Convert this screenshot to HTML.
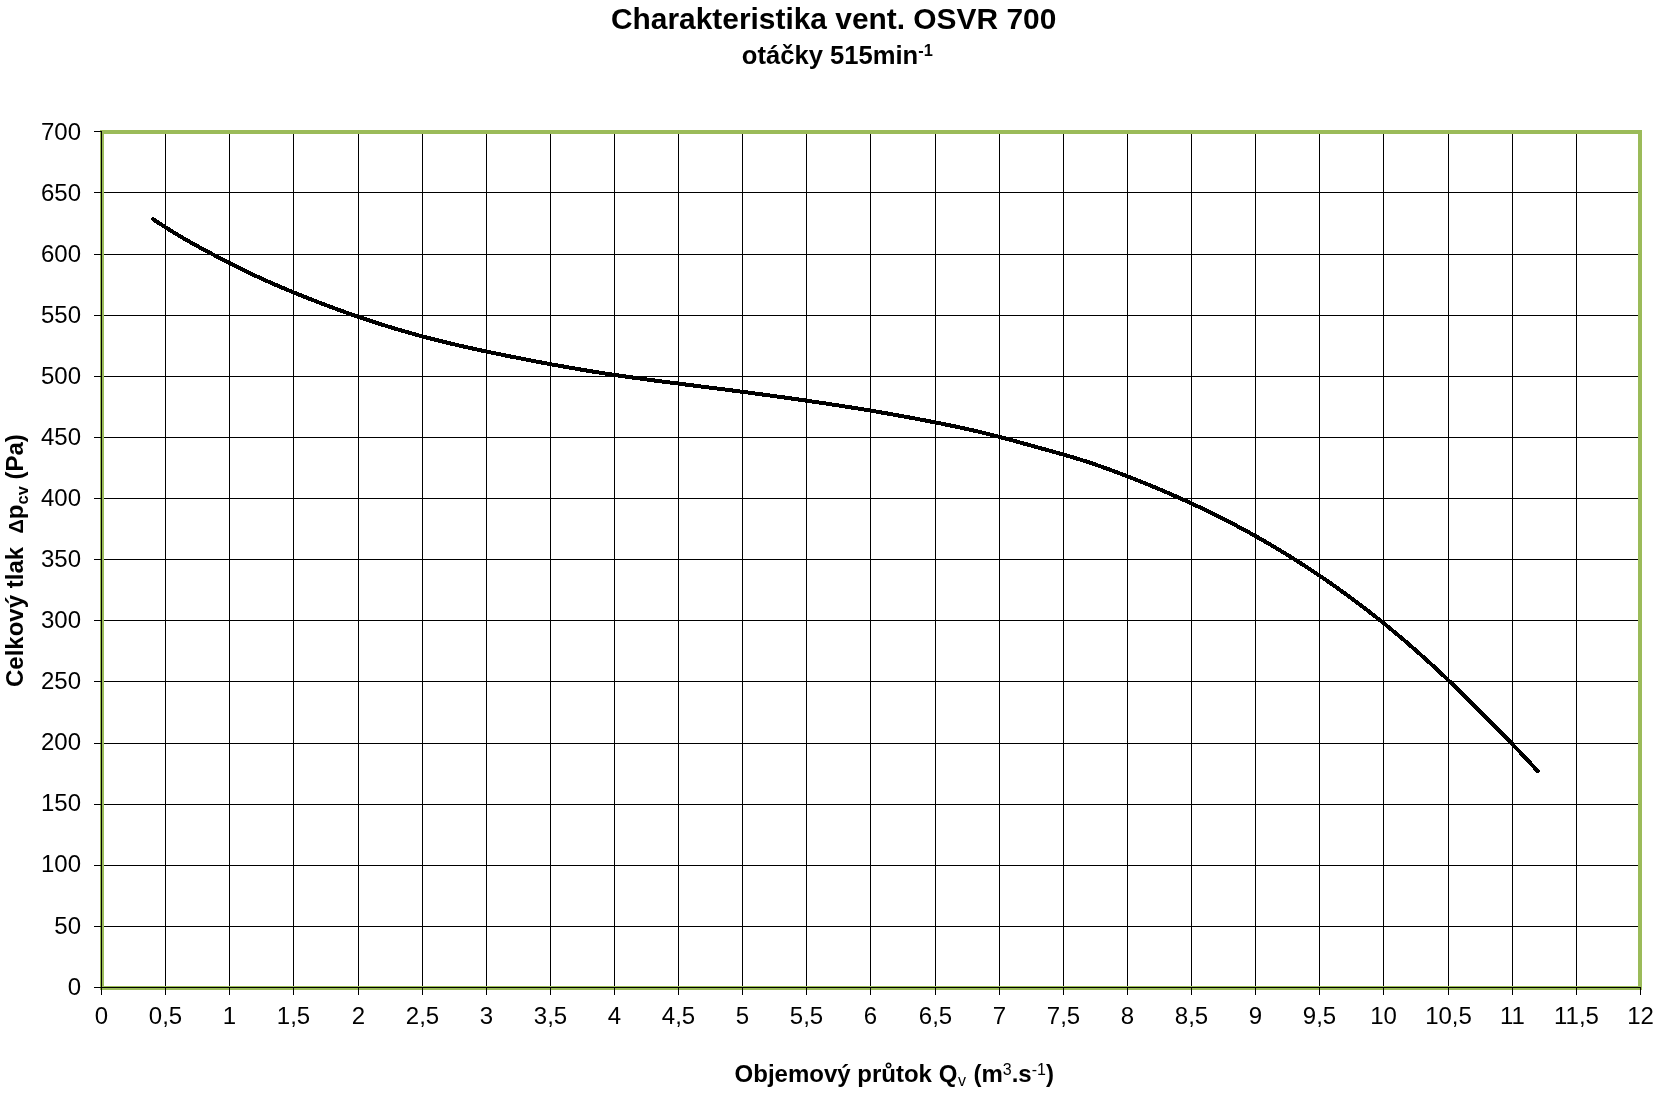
<!DOCTYPE html>
<html><head><meta charset="utf-8"><title>Charakteristika vent. OSVR 700</title>
<style>
html,body{margin:0;padding:0;background:#fff;width:1664px;height:1100px;overflow:hidden}
svg{display:block;will-change:transform}
.t{font-family:"Liberation Sans",Arial,sans-serif;font-size:24px;fill:#000}
.b{font-family:"Liberation Sans",Arial,sans-serif;font-weight:bold;fill:#000}
.r{font-weight:normal}
</style></head><body>
<svg width="1664" height="1100" viewBox="0 0 1664 1100">
<rect width="1664" height="1100" fill="#fff"/>
<path d="M165.5,131V987 M229.5,131V987 M293.5,131V987 M358.5,131V987 M422.5,131V987 M486.5,131V987 M550.5,131V987 M614.5,131V987 M678.5,131V987 M742.5,131V987 M806.5,131V987 M870.5,131V987 M935.5,131V987 M999.5,131V987 M1063.5,131V987 M1127.5,131V987 M1191.5,131V987 M1255.5,131V987 M1319.5,131V987 M1383.5,131V987 M1448.5,131V987 M1512.5,131V987 M1576.5,131V987 M101,926.5H1640 M101,865.5H1640 M101,804.5H1640 M101,743.5H1640 M101,681.5H1640 M101,620.5H1640 M101,559.5H1640 M101,498.5H1640 M101,437.5H1640 M101,376.5H1640 M101,315.5H1640 M101,254.5H1640 M101,192.5H1640" stroke="#000" stroke-width="1" fill="none" shape-rendering="crispEdges"/>
<rect x="102" y="132" width="1538" height="856" fill="none" stroke="#9BBB59" stroke-width="4" shape-rendering="crispEdges"/>
<path d="M101.5,131V987 M101,987.5H1641 M94,987.5H101 M94,926.5H101 M94,865.5H101 M94,804.5H101 M94,743.5H101 M94,681.5H101 M94,620.5H101 M94,559.5H101 M94,498.5H101 M94,437.5H101 M94,376.5H101 M94,315.5H101 M94,254.5H101 M94,192.5H101 M94,131.5H101 M101.5,988V995 M165.5,988V995 M229.5,988V995 M293.5,988V995 M358.5,988V995 M422.5,988V995 M486.5,988V995 M550.5,988V995 M614.5,988V995 M678.5,988V995 M742.5,988V995 M806.5,988V995 M870.5,988V995 M935.5,988V995 M999.5,988V995 M1063.5,988V995 M1127.5,988V995 M1191.5,988V995 M1255.5,988V995 M1319.5,988V995 M1383.5,988V995 M1448.5,988V995 M1512.5,988V995 M1576.5,988V995 M1640.5,988V995" stroke="#000" stroke-width="1" fill="none" shape-rendering="crispEdges"/>
<path d="M153.00,219.11 C154.33,220.00 158.33,222.69 161.00,224.43 C163.67,226.16 166.33,227.85 169.00,229.51 C171.67,231.18 174.33,232.80 177.00,234.40 C179.67,236.00 182.33,237.57 185.00,239.11 C187.67,240.65 190.33,242.16 193.00,243.66 C195.67,245.15 198.33,246.62 201.00,248.08 C203.67,249.53 206.33,250.96 209.00,252.38 C211.67,253.80 214.33,255.20 217.00,256.60 C219.67,257.99 222.33,259.37 225.00,260.74 C227.67,262.11 230.33,263.48 233.00,264.82 C235.67,266.17 238.33,267.51 241.00,268.82 C243.67,270.14 246.33,271.45 249.00,272.73 C251.67,274.01 254.33,275.28 257.00,276.53 C259.67,277.77 262.33,279.00 265.00,280.20 C267.67,281.40 270.33,282.58 273.00,283.74 C275.67,284.91 278.33,286.04 281.00,287.17 C283.67,288.30 286.33,289.41 289.00,290.51 C291.67,291.61 294.33,292.70 297.00,293.78 C299.67,294.86 302.33,295.92 305.00,296.98 C307.67,298.04 310.33,299.10 313.00,300.14 C315.67,301.18 318.33,302.21 321.00,303.23 C323.67,304.24 326.33,305.25 329.00,306.25 C331.67,307.25 334.33,308.24 337.00,309.22 C339.67,310.19 342.33,311.16 345.00,312.11 C347.67,313.07 350.33,314.01 353.00,314.94 C355.67,315.87 358.33,316.79 361.00,317.70 C363.67,318.61 366.33,319.50 369.00,320.39 C371.67,321.27 374.33,322.14 377.00,323.00 C379.67,323.86 382.33,324.71 385.00,325.54 C387.67,326.37 390.33,327.19 393.00,328.00 C395.67,328.81 398.33,329.60 401.00,330.38 C403.67,331.16 406.33,331.93 409.00,332.69 C411.67,333.44 414.33,334.19 417.00,334.92 C419.67,335.65 422.33,336.37 425.00,337.08 C427.67,337.78 430.33,338.48 433.00,339.16 C435.67,339.85 438.33,340.52 441.00,341.18 C443.67,341.85 446.33,342.50 449.00,343.14 C451.67,343.78 454.33,344.41 457.00,345.03 C459.67,345.66 462.33,346.27 465.00,346.87 C467.67,347.47 470.33,348.07 473.00,348.65 C475.67,349.24 478.33,349.82 481.00,350.39 C483.67,350.96 486.33,351.52 489.00,352.08 C491.67,352.64 494.33,353.19 497.00,353.74 C499.67,354.29 502.33,354.83 505.00,355.37 C507.67,355.91 510.33,356.44 513.00,356.97 C515.67,357.50 518.33,358.03 521.00,358.56 C523.67,359.08 526.33,359.60 529.00,360.12 C531.67,360.63 534.33,361.14 537.00,361.65 C539.67,362.16 542.33,362.66 545.00,363.16 C547.67,363.66 550.33,364.15 553.00,364.64 C555.67,365.13 558.33,365.62 561.00,366.09 C563.67,366.57 566.33,367.05 569.00,367.51 C571.67,367.98 574.33,368.44 577.00,368.90 C579.67,369.36 582.33,369.81 585.00,370.25 C587.67,370.70 590.33,371.14 593.00,371.57 C595.67,372.00 598.33,372.43 601.00,372.85 C603.67,373.26 606.33,373.68 609.00,374.08 C611.67,374.49 614.33,374.89 617.00,375.28 C619.67,375.67 622.33,376.06 625.00,376.44 C627.67,376.83 630.33,377.20 633.00,377.58 C635.67,377.95 638.33,378.32 641.00,378.68 C643.67,379.04 646.33,379.40 649.00,379.76 C651.67,380.12 654.33,380.47 657.00,380.82 C659.67,381.17 662.33,381.52 665.00,381.86 C667.67,382.21 670.33,382.55 673.00,382.89 C675.67,383.24 678.33,383.58 681.00,383.92 C683.67,384.26 686.33,384.60 689.00,384.94 C691.67,385.27 694.33,385.61 697.00,385.95 C699.67,386.29 702.33,386.63 705.00,386.97 C707.67,387.31 710.33,387.65 713.00,387.99 C715.67,388.34 718.33,388.68 721.00,389.02 C723.67,389.37 726.33,389.71 729.00,390.06 C731.67,390.41 734.33,390.75 737.00,391.10 C739.67,391.45 742.33,391.80 745.00,392.16 C747.67,392.51 750.33,392.86 753.00,393.22 C755.67,393.57 758.33,393.93 761.00,394.29 C763.67,394.65 766.33,395.01 769.00,395.38 C771.67,395.74 774.33,396.11 777.00,396.48 C779.67,396.84 782.33,397.22 785.00,397.59 C787.67,397.96 790.33,398.34 793.00,398.72 C795.67,399.09 798.33,399.48 801.00,399.86 C803.67,400.24 806.33,400.63 809.00,401.02 C811.67,401.41 814.33,401.80 817.00,402.20 C819.67,402.59 822.33,402.99 825.00,403.40 C827.67,403.80 830.33,404.20 833.00,404.61 C835.67,405.02 838.33,405.44 841.00,405.85 C843.67,406.27 846.33,406.69 849.00,407.11 C851.67,407.54 854.33,407.97 857.00,408.40 C859.67,408.83 862.33,409.27 865.00,409.71 C867.67,410.15 870.33,410.59 873.00,411.04 C875.67,411.49 878.33,411.94 881.00,412.40 C883.67,412.86 886.33,413.32 889.00,413.79 C891.67,414.26 894.33,414.73 897.00,415.21 C899.67,415.68 902.33,416.17 905.00,416.65 C907.67,417.14 910.33,417.63 913.00,418.13 C915.67,418.63 918.33,419.13 921.00,419.64 C923.67,420.15 926.33,420.66 929.00,421.18 C931.67,421.70 934.33,422.22 937.00,422.75 C939.67,423.28 942.33,423.82 945.00,424.36 C947.67,424.91 950.33,425.46 953.00,426.02 C955.67,426.58 958.33,427.15 961.00,427.73 C963.67,428.30 966.33,428.89 969.00,429.49 C971.67,430.09 974.33,430.71 977.00,431.33 C979.67,431.96 982.33,432.59 985.00,433.24 C987.67,433.90 990.33,434.56 993.00,435.24 C995.67,435.92 998.33,436.62 1001.00,437.32 C1003.67,438.03 1006.33,438.75 1009.00,439.47 C1011.67,440.19 1014.33,440.93 1017.00,441.66 C1019.67,442.39 1022.33,443.13 1025.00,443.87 C1027.67,444.61 1030.33,445.35 1033.00,446.09 C1035.67,446.83 1038.33,447.56 1041.00,448.30 C1043.67,449.03 1046.33,449.76 1049.00,450.50 C1051.67,451.24 1054.33,451.98 1057.00,452.73 C1059.67,453.49 1062.33,454.24 1065.00,455.01 C1067.67,455.79 1070.33,456.57 1073.00,457.37 C1075.67,458.17 1078.33,458.98 1081.00,459.82 C1083.67,460.66 1086.33,461.52 1089.00,462.40 C1091.67,463.28 1094.33,464.18 1097.00,465.10 C1099.67,466.02 1102.33,466.96 1105.00,467.92 C1107.67,468.87 1110.33,469.85 1113.00,470.84 C1115.67,471.83 1118.33,472.83 1121.00,473.85 C1123.67,474.86 1126.33,475.89 1129.00,476.93 C1131.67,477.97 1134.33,479.02 1137.00,480.08 C1139.67,481.14 1142.33,482.21 1145.00,483.29 C1147.67,484.37 1150.33,485.47 1153.00,486.58 C1155.67,487.68 1158.33,488.80 1161.00,489.93 C1163.67,491.06 1166.33,492.21 1169.00,493.36 C1171.67,494.52 1174.33,495.69 1177.00,496.87 C1179.67,498.06 1182.33,499.25 1185.00,500.46 C1187.67,501.68 1190.33,502.90 1193.00,504.14 C1195.67,505.38 1198.33,506.63 1201.00,507.90 C1203.67,509.17 1206.33,510.46 1209.00,511.76 C1211.67,513.06 1214.33,514.37 1217.00,515.70 C1219.67,517.04 1222.33,518.38 1225.00,519.75 C1227.67,521.11 1230.33,522.49 1233.00,523.89 C1235.67,525.29 1238.33,526.70 1241.00,528.14 C1243.67,529.57 1246.33,531.02 1249.00,532.48 C1251.67,533.95 1254.33,535.44 1257.00,536.94 C1259.67,538.44 1262.33,539.96 1265.00,541.50 C1267.67,543.04 1270.33,544.60 1273.00,546.18 C1275.67,547.76 1278.33,549.35 1281.00,550.97 C1283.67,552.58 1286.33,554.21 1289.00,555.87 C1291.67,557.52 1294.33,559.19 1297.00,560.89 C1299.67,562.58 1302.33,564.29 1305.00,566.02 C1307.67,567.76 1310.33,569.51 1313.00,571.28 C1315.67,573.05 1318.33,574.85 1321.00,576.66 C1323.67,578.48 1326.33,580.31 1329.00,582.17 C1331.67,584.02 1334.33,585.90 1337.00,587.80 C1339.67,589.70 1342.33,591.62 1345.00,593.56 C1347.67,595.50 1350.33,597.46 1353.00,599.45 C1355.67,601.43 1358.33,603.44 1361.00,605.47 C1363.67,607.49 1366.33,609.55 1369.00,611.62 C1371.67,613.69 1374.33,615.79 1377.00,617.90 C1379.67,620.02 1382.33,622.16 1385.00,624.32 C1387.67,626.49 1390.33,628.67 1393.00,630.88 C1395.67,633.09 1398.33,635.32 1401.00,637.57 C1403.67,639.83 1406.33,642.10 1409.00,644.41 C1411.67,646.71 1414.33,649.03 1417.00,651.39 C1419.67,653.74 1422.33,656.12 1425.00,658.52 C1427.67,660.93 1430.33,663.36 1433.00,665.82 C1435.67,668.27 1438.33,670.76 1441.00,673.27 C1443.67,675.77 1446.33,678.30 1449.00,680.85 C1451.67,683.40 1454.33,685.97 1457.00,688.56 C1459.67,691.15 1462.33,693.76 1465.00,696.38 C1467.67,699.00 1470.33,701.64 1473.00,704.29 C1475.67,706.94 1478.33,709.61 1481.00,712.28 C1483.67,714.95 1486.33,717.64 1489.00,720.33 C1491.67,723.02 1494.33,725.72 1497.00,728.43 C1499.67,731.14 1502.33,733.85 1505.00,736.58 C1507.67,739.31 1510.33,742.05 1513.00,744.81 C1515.67,747.58 1518.33,750.35 1521.00,753.17 C1523.67,755.98 1526.33,758.81 1529.00,761.68 C1531.67,764.56 1535.57,768.84 1537.00,770.40 C1538.43,771.96 1537.50,770.95 1537.60,771.06" stroke="#000" stroke-width="4" fill="none" stroke-linecap="round" stroke-linejoin="round" shape-rendering="crispEdges"/>
<text x="81" y="994.6" text-anchor="end" class="t">0</text>
<text x="81" y="933.5" text-anchor="end" class="t">50</text>
<text x="81" y="872.4" text-anchor="end" class="t">100</text>
<text x="81" y="811.4" text-anchor="end" class="t">150</text>
<text x="81" y="750.3" text-anchor="end" class="t">200</text>
<text x="81" y="689.2" text-anchor="end" class="t">250</text>
<text x="81" y="628.1" text-anchor="end" class="t">300</text>
<text x="81" y="567.0" text-anchor="end" class="t">350</text>
<text x="81" y="506.0" text-anchor="end" class="t">400</text>
<text x="81" y="444.9" text-anchor="end" class="t">450</text>
<text x="81" y="383.8" text-anchor="end" class="t">500</text>
<text x="81" y="322.7" text-anchor="end" class="t">550</text>
<text x="81" y="261.6" text-anchor="end" class="t">600</text>
<text x="81" y="200.6" text-anchor="end" class="t">650</text>
<text x="81" y="139.5" text-anchor="end" class="t">700</text>
<text x="101.5" y="1023.8" text-anchor="middle" class="t">0</text>
<text x="165.5" y="1023.8" text-anchor="middle" class="t">0,5</text>
<text x="229.5" y="1023.8" text-anchor="middle" class="t">1</text>
<text x="293.5" y="1023.8" text-anchor="middle" class="t">1,5</text>
<text x="358.5" y="1023.8" text-anchor="middle" class="t">2</text>
<text x="422.5" y="1023.8" text-anchor="middle" class="t">2,5</text>
<text x="486.5" y="1023.8" text-anchor="middle" class="t">3</text>
<text x="550.5" y="1023.8" text-anchor="middle" class="t">3,5</text>
<text x="614.5" y="1023.8" text-anchor="middle" class="t">4</text>
<text x="678.5" y="1023.8" text-anchor="middle" class="t">4,5</text>
<text x="742.5" y="1023.8" text-anchor="middle" class="t">5</text>
<text x="806.5" y="1023.8" text-anchor="middle" class="t">5,5</text>
<text x="870.5" y="1023.8" text-anchor="middle" class="t">6</text>
<text x="935.5" y="1023.8" text-anchor="middle" class="t">6,5</text>
<text x="999.5" y="1023.8" text-anchor="middle" class="t">7</text>
<text x="1063.5" y="1023.8" text-anchor="middle" class="t">7,5</text>
<text x="1127.5" y="1023.8" text-anchor="middle" class="t">8</text>
<text x="1191.5" y="1023.8" text-anchor="middle" class="t">8,5</text>
<text x="1255.5" y="1023.8" text-anchor="middle" class="t">9</text>
<text x="1319.5" y="1023.8" text-anchor="middle" class="t">9,5</text>
<text x="1383.5" y="1023.8" text-anchor="middle" class="t">10</text>
<text x="1448.5" y="1023.8" text-anchor="middle" class="t">10,5</text>
<text x="1512.5" y="1023.8" text-anchor="middle" class="t">11</text>
<text x="1576.5" y="1023.8" text-anchor="middle" class="t">11,5</text>
<text x="1640.5" y="1023.8" text-anchor="middle" class="t">12</text>
<text x="611" y="29" class="b" style="font-size:29.9px">Charakteristika vent. OSVR 700</text>
<text x="741.8" y="63.7" class="b" style="font-size:25.6px">otáčky 515min<tspan style="font-size:16.4px" dy="-8">-1</tspan></text>
<text x="734.6" y="1081.8" class="b" style="font-size:24px">Objemový průtok Q<tspan class="r" style="font-size:16px" dx="0.8" dy="4.4">v</tspan><tspan dx="0.7" dy="-4.4"> (m</tspan><tspan class="r" style="font-size:16px" dy="-7.3">3</tspan><tspan dy="7.3">.s</tspan><tspan class="r" style="font-size:16px" dy="-7.3">-1</tspan><tspan dy="7.3">)</tspan></text>
<text transform="translate(22.6,687) rotate(-90)" class="b" style="font-size:24px;white-space:pre">Celkový tlak  <tspan style="font-size:20px">Δ</tspan>p<tspan style="font-size:16.5px" dy="5">cv</tspan><tspan dy="-5"> (Pa)</tspan></text>
</svg>
</body></html>
